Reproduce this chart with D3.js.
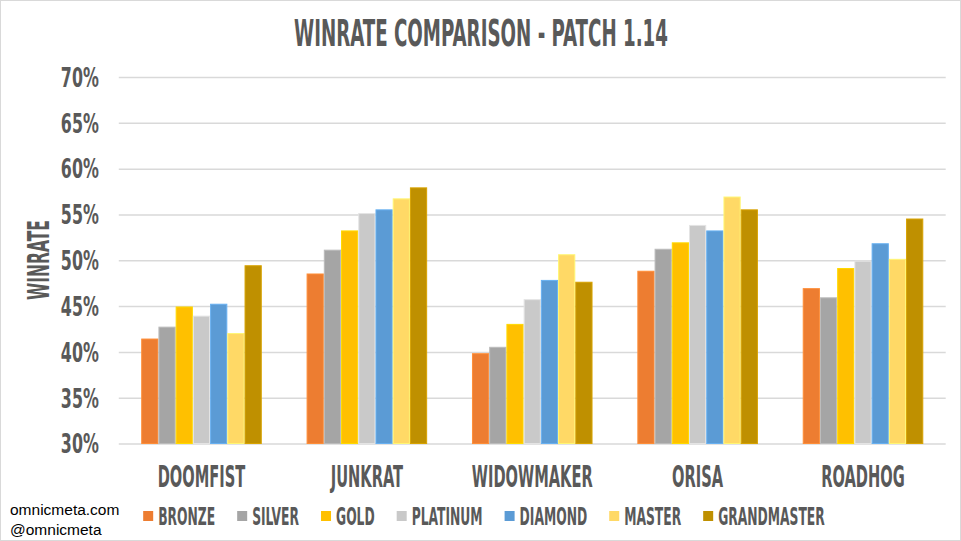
<!DOCTYPE html>
<html>
<head>
<meta charset="utf-8">
<script src="https://cdn.jsdelivr.net/npm/d3@7"></script>
<style>
  html, body { margin: 0; padding: 0; background: #fff; }
  svg { display: block; }
  .cond { font-family: "Liberation Sans Narrow", "DejaVu Sans Condensed", "Roboto Condensed", sans-serif; font-weight: bold; fill: #595959; }
</style>
</head>
<body>
<svg id="chart" width="961" height="541"></svg>
<script>
// ---- data ----
const title = "WINRATE COMPARISON - PATCH 1.14";
const yAxisTitle = "WINRATE";
const categories = ["DOOMFIST", "JUNKRAT", "WIDOWMAKER", "ORISA", "ROADHOG"];
const ranks = ["BRONZE", "SILVER", "GOLD", "PLATINUM", "DIAMOND", "MASTER", "GRANDMASTER"];
const bronze      = [41.4, 48.5, 39.8, 48.8, 46.9];
const silver      = [42.7, 51.1, 40.5, 51.2, 45.9];
const gold        = [44.9, 53.2, 43.0, 51.9, 49.1];
const platinum    = [43.9, 55.1, 45.7, 53.8, 49.9];
const diamond     = [45.2, 55.5, 47.8, 53.2, 51.8];
const master      = [42.0, 56.7, 50.6, 56.9, 50.1];
const grandmaster = [49.4, 57.9, 47.6, 55.5, 54.5];
const yTicks = [30, 35, 40, 45, 50, 55, 60, 65, 70];
const watermark = ["omnicmeta.com", "@omnicmeta"];

const seriesValues = [bronze, silver, gold, platinum, diamond, master, grandmaster];
const colors = ["#ED7D31", "#A5A5A5", "#FFC000", "#C9C9C9", "#5B9BD5", "#FFD966", "#BF9000"];

// ---- layout ----
const W = 961, H = 541;
const plot = { left: 118.8, right: 945.7, top: 77, bottom: 443.5 };
const svg = d3.select("#chart");

// border
svg.append("rect").attr("x", 0.5).attr("y", 0.5).attr("width", W - 1).attr("height", H - 1)
  .attr("fill", "#fff").attr("stroke", "#D9D9D9").attr("stroke-width", 1);

// horizontal condense helper: scale group of texts so a reference text reaches a target width
function condense(sel, refNode, target) {
  const w = refNode.getBBox().width;
  const sx = w > 0 ? target / w : 1;
  sel.each(function () {
    const t = d3.select(this);
    const x = +t.attr("x") || 0;
    const y = +t.attr("y") || 0;
    t.attr("transform", `translate(${x},${y}) scale(${sx},1) translate(${-x},${-y})`);
  });
  return sx;
}

// scales
const x0 = d3.scaleBand().domain(categories).range([plot.left, plot.right])
  .paddingInner(0.271).paddingOuter(0.1355);
const x1 = d3.scaleBand().domain(ranks).range([0, x0.bandwidth()]).padding(0);
const y = d3.scaleLinear().domain([30, 70]).range([plot.bottom, plot.top]);

// grid + y labels
const yAxis = svg.append("g").attr("transform", `translate(${plot.left},0)`)
  .call(d3.axisLeft(y).tickValues(yTicks).tickSize(-(plot.right - plot.left))
    .tickPadding(20).tickFormat(d => d + "%"));
yAxis.select(".domain").remove();
yAxis.selectAll(".tick line").attr("stroke", "#D9D9D9").attr("stroke-width", 1.5);
const yText = yAxis.selectAll(".tick text")
  .attr("class", "cond").attr("font-size", 26).attr("dy", "0.36em").attr("fill", "#595959");
condense(yText, yText.nodes()[yTicks.length - 1], 38);

// bars
const groups = svg.append("g").selectAll("g").data(categories).join("g")
  .attr("transform", c => `translate(${x0(c)},0)`);
groups.selectAll("rect")
  .data((c, ci) => ranks.map((r, ri) => ({ r, ri, v: seriesValues[ri][ci] })))
  .join("rect")
  .attr("x", d => x1(d.r) + 0.5)
  .attr("width", x1.bandwidth() - 1)
  .attr("y", d => y(d.v))
  .attr("height", d => y(30) - y(d.v))
  .attr("fill", d => colors[d.ri])
  .attr("stroke", d => d3.color(colors[d.ri]).brighter(0.35))
  .attr("stroke-width", 1);

// category labels
const catText = svg.append("g").selectAll("text").data(categories).join("text")
  .attr("class", "cond").attr("font-size", 30)
  .attr("x", c => x0(c) + x0.bandwidth() / 2).attr("y", 487)
  .attr("text-anchor", "middle").text(c => c);
condense(catText, catText.nodes()[0], 88);

// title
const titleText = svg.append("text").attr("class", "cond").attr("font-size", 37)
  .attr("x", 481).attr("y", 46.5).attr("text-anchor", "middle").text(title);
condense(titleText, titleText.node(), 374);

// y axis title
const yt = svg.append("g").attr("transform", "translate(49,260) rotate(-90)");
const ytText = yt.append("text").attr("class", "cond").attr("font-size", 31)
  .attr("x", 0).attr("y", 0).attr("text-anchor", "middle").text(yAxisTitle);
condense(ytText, ytText.node(), 80);

// legend
const legend = svg.append("g");
const items = legend.selectAll("g").data(ranks).join("g");
items.append("rect").attr("width", 10).attr("height", 10).attr("y", 511)
  .attr("fill", (d, i) => colors[i]);
const legText = items.append("text").attr("class", "cond").attr("font-size", 25)
  .attr("y", 525).text(d => d);
// measure and condense
const refW = legText.nodes()[0].getBBox().width;
const lsx = 57 / refW;
let cx = 0;
const positions = [];
legText.each(function () {
  const w = this.getBBox().width * lsx;
  positions.push({ sq: cx, tx: cx + 15, w });
  cx += 15 + w + 22;
});
const totalW = cx - 22;
const legStart = 484 - totalW / 2;
items.each(function (d, i) {
  const g = d3.select(this);
  g.select("rect").attr("x", legStart + positions[i].sq);
  const tx = legStart + positions[i].tx;
  g.select("text").attr("x", tx)
    .attr("transform", `translate(${tx},525) scale(${lsx},1) translate(${-tx},-525)`);
});

// watermark
svg.append("g").selectAll("text").data(watermark).join("text")
  .attr("x", 10).attr("y", (d, i) => 515 + i * 20)
  .attr("font-family", "Liberation Sans, Arial, sans-serif").attr("font-size", 15.5)
  .attr("fill", "#000").text(d => d);
</script>
</body>
</html>
